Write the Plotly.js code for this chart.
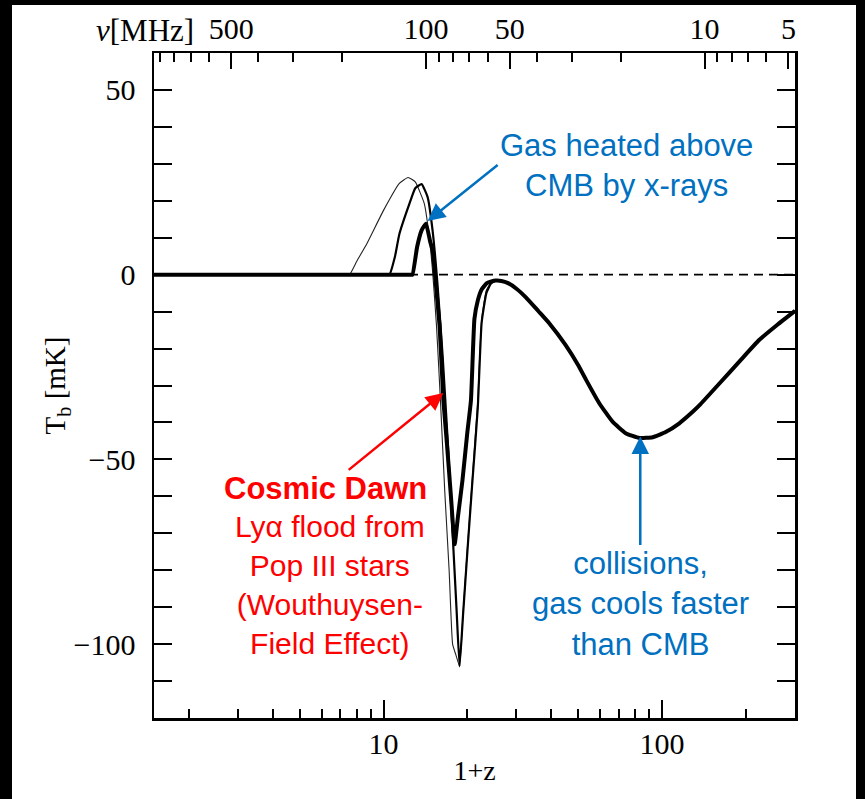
<!DOCTYPE html>
<html><head><meta charset="utf-8">
<script src="https://cdn.plot.ly/plotly-3.0.1.min.js"></script>
<style>
html,body{margin:0;padding:0;background:#000;width:865px;height:799px;overflow:hidden}
#chart{position:absolute;left:12px;top:5px;width:844px;height:794px;background:#fff}
</style></head><body><div id="chart"></div>
<script>
// shared tail of all three models (1+z, T_b in mK)
const tailZ = [26.5, 28, 30, 32.5, 36, 39.4, 45, 50, 53.3, 59.5, 66.4, 74, 83, 92.5, 103, 115, 128.5, 136, 160, 190, 223, 260, 300];
const tailT = [-1.7, -2.3, -3.8, -6.2, -9.9, -13.2, -19, -24.5, -28.4, -34.8, -39.8, -42.9, -44.2, -44, -42.6, -40.3, -37.2, -35.4, -29.6, -23.4, -17.7, -13.5, -9.8];

// thin model
const thinZ = [1.5, 4, 7.3, 7.55, 8.0, 8.73, 10.0, 11.4, 12.25, 13.0, 14.0, 14.5, 15.0, 15.5, 16.0, 16.6, 17.2, 17.7, 18.2, 18.75, 19.3, 20.0, 20.8, 21.8, 22.2, 22.6, 23.4, 24.3, 25.3];
const thinT = [0, 0, 0, 0, 3.5, 8.5, 17.4, 24.7, 26.3, 25.1, 19.3, 12, 1, -14, -33.7, -59, -80, -100, -103, -106, -91.6, -74, -56, -34, -20, -11, -4.2, -2.2, -1.6];

// medium model
const medZ = [1.5, 5, 10.3, 10.5, 11.0, 11.4, 12.4, 13.0, 13.7, 14.4, 15.0, 15.6, 16.3, 17.0, 17.7, 18.3, 18.75, 19.3, 20.0, 20.8, 21.8, 22.5, 23.4, 24.3, 25.3];
const medT = [0, 0, 0, 0, 5, 11, 19.3, 23.4, 24.5, 21, 12, -2, -22, -45, -70, -91, -106, -92, -75, -57, -36, -13, -5, -2.4, -1.6];

// thick model
const thickZ = [1.5, 6, 12.5, 12.7, 13.2, 13.7, 14.2, 14.7, 15.0, 15.3, 15.9, 16.4, 16.9, 17.5, 18.0, 18.5, 19.2, 20.0, 20.6, 21.2, 21.8, 22.5, 23.5, 24.4, 25.3];
const thickT = [0, 0, 0, 0, 7.5, 12, 13.8, 9, 6.6, 0, -14, -34, -46, -61, -73, -65.5, -55.7, -42.6, -34, -12, -7, -4, -2.3, -1.8, -1.6];

const zeroZ = [1.5, 300];
const zeroT = [0, 0];

const zRange = [1.5, 300];
const tRange = [-120, 60];
const xMajor = [10, 100];
const xMinor = [2,3,4,5,6,7,8,9,20,30,40,50,60,70,80,90,200,300];
const yMajor = [-100, -50, 0, 50];
const NU21 = 1420.4;              // MHz
const nuMajor = [500, 100, 50, 10, 5];
const nuMinor = [900, 800, 700, 600, 400, 300, 200, 90, 80, 70, 60, 40, 30, 20, 9, 8, 7, 6];

const full = (z, t) => ({x: z.concat(tailZ), y: t.concat(tailT)});
const L = Math.log10;
const serif = 'Liberation Serif, Times New Roman, serif';
const sans = 'Liberation Sans, Arial, sans-serif';
const blue = '#0070C0', red = '#FF0000';

const a = full(thinZ, thinT), b = full(medZ, medT), c = full(thickZ, thickT);
const traces = [
  {x: zeroZ, y: zeroT, xaxis: 'x2', yaxis: 'y', mode: 'lines', line: {color: '#000', width: 1.8, dash: '9px,6px'}, hoverinfo: 'skip'},
  {x: a.x, y: a.y, mode: 'lines', line: {color: '#222', width: 1.1, shape: 'spline', smoothing: 0.4}, name: 'thin'},
  {x: b.x, y: b.y, mode: 'lines', line: {color: '#000', width: 2.2, shape: 'spline', smoothing: 0.4}, name: 'medium'},
  {x: c.x, y: c.y, mode: 'lines', line: {color: '#000', width: 4, shape: 'spline', smoothing: 0.4}, name: 'thick'}
];

const tickFont = {family: serif, size: 30, color: '#000'};
const arrowStyle = {showarrow: true, arrowhead: 2, arrowsize: 1.4, arrowwidth: 2.5, standoff: 0};
const layout = {
  width: 844, height: 794,
  margin: {l: 142, r: 61, t: 48, b: 81, autoexpand: false},
  paper_bgcolor: '#fff', plot_bgcolor: '#fff',
  showlegend: false,
  xaxis: {
    type: 'log', range: [L(zRange[0]), L(zRange[1])],
    tickmode: 'array', tickvals: xMajor, ticktext: xMajor.map(String),
    ticks: 'inside', ticklen: 18, tickwidth: 2, tickcolor: '#000',
    minor: {tickmode: 'array', tickvals: xMinor, ticks: 'inside', ticklen: 9, tickwidth: 2, tickcolor: '#000', showgrid: false},
    showline: true, linewidth: 2.5, linecolor: '#000', mirror: false,
    showgrid: false, zeroline: false, tickfont: tickFont, ticklabelstandoff: -3,
    title: {text: '1+z', font: {family: serif, size: 28, color: '#000'}, standoff: 2}
  },
  xaxis2: {
    type: 'log', range: [L(zRange[0]), L(zRange[1])], overlaying: 'x', side: 'top', anchor: 'y',
    tickmode: 'array', tickvals: nuMajor.map(n => NU21 / n), ticktext: nuMajor.map(String),
    ticks: 'inside', ticklen: 16, tickwidth: 2, tickcolor: '#000',
    minor: {tickmode: 'array', tickvals: nuMinor.map(n => NU21 / n), ticks: 'inside', ticklen: 9, tickwidth: 2, tickcolor: '#000', showgrid: false},
    showline: true, linewidth: 2.5, linecolor: '#000',
    showgrid: false, zeroline: false, tickfont: tickFont, ticklabelstandoff: 0
  },
  yaxis: {
    range: tRange, tickmode: 'array', tickvals: yMajor,
    ticks: 'inside', ticklen: 18, tickwidth: 2, tickcolor: '#000',
    minor: {dtick: 10, tick0: 0, ticks: 'inside', ticklen: 9, tickwidth: 2, tickcolor: '#000', showgrid: false},
    showline: true, linewidth: 2.5, linecolor: '#000', mirror: 'allticks',
    showgrid: false, zeroline: false, tickfont: tickFont, ticklabelstandoff: 10,
    title: {text: 'T<sub>b</sub> [mK]', font: {family: serif, size: 29, color: '#000'}, standoff: 0}
  },
  annotations: [
    {xref: 'paper', yref: 'paper', x: 0.066, y: 1.034, xanchor: 'right', yanchor: 'middle', showarrow: false,
     text: '<i>ν</i>[MHz]', font: {family: serif, size: 31, color: '#000'}},
    // blue upper label, arrow tail at its left edge
    Object.assign({x: L(14.4), y: 14.5, xref: 'x', yref: 'y', ax: 70, ay: -56, xanchor: 'left', yanchor: 'middle', align: 'center',
     text: 'Gas heated above<br>CMB by x-rays', font: {family: sans, size: 31, color: blue}, arrowcolor: blue}, arrowStyle),
    // blue lower label with vertical arrow
    Object.assign({x: L(83.5), y: -43.8, xref: 'x', yref: 'y', ax: 0, ay: 168, align: 'center',
     text: 'collisions,<br>gas cools faster<br>than CMB', font: {family: sans, size: 31, color: blue}, arrowcolor: blue}, arrowStyle),
    // red label: headline carries the arrow
    Object.assign({x: L(16.4), y: -32, xref: 'x', yref: 'y', ax: -118, ay: 96, align: 'center',
     text: '<b>Cosmic Dawn</b>', font: {family: sans, size: 31, color: red}, arrowcolor: red}, arrowStyle),
    {x: L(6.4), y: -83.9, xref: 'x', yref: 'y', showarrow: false, align: 'center',
     text: 'Lyα flood from<br>Pop III stars<br>(Wouthuysen-<br>Field Effect)', font: {family: sans, size: 30, color: red}}
  ]
};
Plotly.newPlot('chart', traces, layout, {staticPlot: true, displayModeBar: false});
</script></body></html>
